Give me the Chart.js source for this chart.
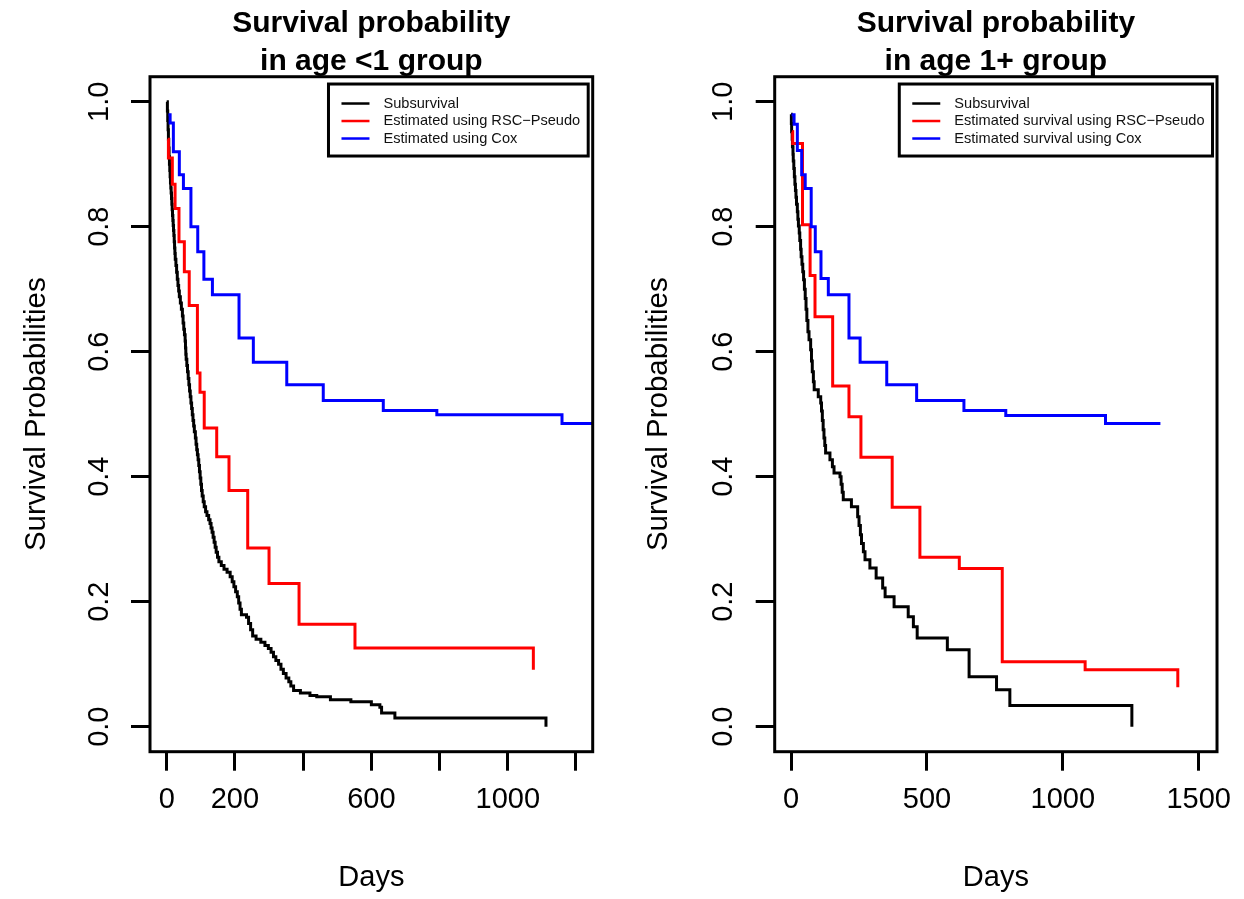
<!DOCTYPE html>
<html><head><meta charset="utf-8">
<script src="https://cdn.jsdelivr.net/npm/chart.js@4"></script>
<style>
html,body{margin:0;padding:0;background:#fff;}
#wrap{position:relative;width:1244px;height:899px;background:#fff;}
canvas{position:absolute;top:0;}
</style></head><body>
<div id="wrap">
<canvas id="c1" width="622" height="899" style="left:0;width:622px;height:899px"></canvas>
<canvas id="c2" width="622" height="899" style="left:622px;width:622px;height:899px"></canvas>
</div>
<script>
// ---------------- DATA ----------------
const seriesLabelsLeft = ['Subsurvival', 'Estimated using RSC\u2212Pseudo', 'Estimated using Cox'];
const seriesLabelsRight = ['Subsurvival', 'Estimated survival using RSC\u2212Pseudo', 'Estimated survival using Cox'];
const titleLeft = ['Survival probability', 'in age <1 group'];
const titleRight = ['Survival probability', 'in age 1+ group'];
const xTitle = 'Days';
const yTitle = 'Survival Probabilities';

const yTickValues = [0, 0.2, 0.4, 0.6, 0.8, 1.0];
const yTickLabels = ['0.0', '0.2', '0.4', '0.6', '0.8', '1.0'];
const leftXTickValues = [0, 200, 400, 600, 800, 1000, 1200];
const leftXTickLabels = ['0', '200', '', '600', '', '1000', ''];
const rightXTickValues = [0, 500, 1000, 1500];
const rightXTickLabels = ['0', '500', '1000', '1500'];

// Left panel (age < 1)
const leftSubDays = [0,2,3,4,5,6,7,8,9,10,11,12,13,14,15,16,17,18,19,20,21,22,23,24,25,27,29,31,33,35,37,40,43,46,48,50,52,54,55,56,57,59,61,63,65,67,69,71,73,75,77,79,81,84,86,88,90,92,94,96,98,100,102,104,107,110,114,118,123,127,130,133,136,139,142,145,149,153,160,168,177,186,192,197,202,207,211,215,219,234,240,246,252,262,276,288,298,306,313,320,328,335,342,350,358,364,372,392,420,440,480,540,600,625,630,669,1112];
const leftSubSurv = [1.000,0.985,0.970,0.955,0.940,0.926,0.912,0.900,0.890,0.880,0.870,0.862,0.854,0.845,0.836,0.827,0.818,0.810,0.802,0.794,0.786,0.776,0.766,0.757,0.748,0.738,0.727,0.716,0.706,0.697,0.688,0.678,0.668,0.657,0.646,0.636,0.627,0.617,0.606,0.596,0.588,0.578,0.568,0.557,0.547,0.537,0.528,0.518,0.509,0.499,0.490,0.481,0.472,0.462,0.452,0.443,0.435,0.427,0.418,0.408,0.398,0.388,0.378,0.369,0.360,0.352,0.344,0.338,0.331,0.325,0.318,0.311,0.303,0.295,0.287,0.279,0.271,0.264,0.258,0.252,0.247,0.240,0.232,0.224,0.216,0.208,0.198,0.188,0.179,0.175,0.165,0.155,0.145,0.140,0.135,0.130,0.125,0.119,0.112,0.106,0.100,0.092,0.085,0.078,0.072,0.065,0.058,0.054,0.050,0.048,0.043,0.040,0.035,0.031,0.022,0.014,0.000];
const leftRscDays = [3,5,16.5,24.5,36,51.7,66,90,97.6,110,146.6,182.6,237.5,300,388,552,1075];
const leftRscSurv = [0.940,0.910,0.868,0.829,0.776,0.728,0.674,0.566,0.535,0.478,0.432,0.378,0.286,0.229,0.164,0.126,0.091];
const leftCoxDays = [5,10,19.5,37,49,71,91,109,134,212,254,352,459,635,792,1159,1300];
const leftCoxSurv = [0.979,0.966,0.920,0.883,0.861,0.800,0.760,0.716,0.691,0.622,0.583,0.547,0.522,0.506,0.499,0.485,0.485];

// Right panel (age 1+)
const rightSubDays = [0,1,2,4,5,7,8,10,12,14,16,18,20,23,25,27,30,32,35,37,40,43,46,49,52,55,58,62,66,72,75,78,82,85,100,109,112,115,118,121,124,127,143,152,158,180,184,188,192,222,245,250,255,259,266,272,290,313,337,346,379,431,450,464,575,655,756,805,1254];
const rightSubSurv = [0.980,0.965,0.952,0.940,0.928,0.916,0.905,0.893,0.880,0.868,0.858,0.847,0.836,0.824,0.812,0.801,0.790,0.778,0.764,0.752,0.740,0.728,0.715,0.700,0.685,0.668,0.650,0.632,0.619,0.603,0.585,0.568,0.552,0.539,0.528,0.518,0.505,0.490,0.475,0.462,0.450,0.438,0.427,0.416,0.406,0.400,0.388,0.375,0.363,0.352,0.336,0.322,0.307,0.293,0.280,0.267,0.254,0.238,0.222,0.208,0.192,0.176,0.160,0.142,0.123,0.080,0.059,0.034,0.000];
const rightRscDays = [3,6,42,70,88,153,213,257,372,474,619,777,1082,1423];
const rightRscSurv = [0.952,0.933,0.803,0.722,0.656,0.545,0.496,0.431,0.351,0.271,0.253,0.104,0.091,0.063];
const rightCoxDays = [2,11,23,39,52,74,89,110,137,213,254,352,462,636,790,1157,1359];
const rightCoxSurv = [0.979,0.964,0.922,0.883,0.861,0.800,0.760,0.717,0.691,0.622,0.583,0.547,0.522,0.506,0.498,0.485,0.485];

const seriesColors = ['#000000', '#FF0000', '#0000FF'];

// ---------------- CHART ----------------
Chart.defaults.font.family = "'Liberation Sans', Arial, Helvetica, sans-serif";
Chart.defaults.color = '#000';

function pts(days, surv) { return days.map((d, i) => ({x: d, y: surv[i]})); }

const boxPlugin = {
  id: 'rbox',
  afterDatasetsDraw(chart) {
    const {ctx, chartArea: a} = chart;
    ctx.save();
    ctx.strokeStyle = '#000';
    ctx.lineWidth = 3;
    ctx.strokeRect(a.left, a.top, a.right - a.left, a.bottom - a.top);
    ctx.restore();
  }
};

const legendPlugin = {
  id: 'rlegend',
  afterDraw(chart) {
    const {ctx, chartArea: a} = chart;
    const ds = chart.data.datasets;
    ctx.save();
    ctx.font = "14.6px 'Liberation Sans', Arial, sans-serif";
    let tw = 0;
    ds.forEach(d => { tw = Math.max(tw, ctx.measureText(d.label).width); });
    const right = a.right - 4.5;
    const left = right - (55 + tw + 8);
    const top = a.top + 7.3;
    const h = 72;
    ctx.fillStyle = '#fff';
    ctx.fillRect(left, top, right - left, h);
    ctx.strokeStyle = '#000';
    ctx.lineWidth = 3;
    ctx.strokeRect(left, top, right - left, h);
    ds.forEach((d, i) => {
      const y = top + 19.5 + i * 17.5;
      ctx.strokeStyle = d.borderColor;
      ctx.lineWidth = 2.5;
      ctx.beginPath();
      ctx.moveTo(left + 13, y);
      ctx.lineTo(left + 41, y);
      ctx.stroke();
      ctx.fillStyle = '#111';
      ctx.textBaseline = 'middle';
      ctx.textAlign = 'left';
      ctx.fillText(d.label, left + 55, y);
    });
    ctx.restore();
  }
};

function makeChart(id, cfg) {
  const datasets = cfg.series.map((s, i) => ({
    label: cfg.labels[i],
    data: pts(s[0], s[1]),
    borderColor: seriesColors[i],
    backgroundColor: seriesColors[i],
    borderWidth: 3,
    pointRadius: 0,
    stepped: true,
    fill: false,
    order: 3 - i
  }));
  return new Chart(document.getElementById(id), {
    type: 'line',
    data: {datasets},
    plugins: [boxPlugin, legendPlugin],
    options: {
      responsive: false,
      animation: false,
      devicePixelRatio: 1,
      layout: {padding: {left: 0, right: cfg.rightPad, top: 0, bottom: 0}},
      plugins: {
        legend: {display: false},
        tooltip: {enabled: false},
        title: {
          display: true,
          text: cfg.title,
          fullSize: false,
          color: '#000',
          font: {size: 30, weight: 'bold', lineHeight: 1.267},
          padding: {top: 4.25, bottom: -3.55}
        }
      },
      scales: {
        x: {
          type: 'linear',
          min: cfg.xMin, max: cfg.xMax,
          afterBuildTicks: s => { s.ticks = cfg.xTicks.map(v => ({value: v})); },
          afterFit: s => { s.height = 899 - 751.7; },
          grid: {display: true, drawOnChartArea: false, drawTicks: true, tickLength: 19, tickWidth: 3, tickColor: '#000'},
          border: {display: false},
          ticks: {
            autoSkip: false, maxRotation: 0, minRotation: 0, padding: 11.9,
            font: {size: 29}, color: '#000',
            callback: (v, i) => cfg.xTickLabels[i]
          },
          title: {display: true, text: xTitle, font: {size: 29}, color: '#000', padding: {top: 0, bottom: 3.6}}
        },
        y: {
          type: 'linear',
          min: -0.04, max: 1.04,
          afterBuildTicks: s => { s.ticks = yTickValues.map(v => ({value: v})); },
          afterFit: s => { s.width = cfg.yWidth; },
          grid: {display: true, drawOnChartArea: false, drawTicks: true, tickLength: 19, tickWidth: 3, tickColor: '#000'},
          border: {display: false},
          ticks: {
            autoSkip: false, minRotation: 90, maxRotation: 90, padding: 11.3,
            crossAlign: 'center',
            font: {size: 29}, color: '#000',
            callback: (v, i) => yTickLabels[i]
          },
          title: {display: true, text: yTitle, font: {size: 29.5}, color: '#000', padding: {top: 19.3, bottom: 0}}
        }
      }
    }
  });
}

makeChart('c1', {
  title: titleLeft,
  labels: seriesLabelsLeft,
  series: [[leftSubDays, leftSubSurv], [leftRscDays, leftRscSurv], [leftCoxDays, leftCoxSurv]],
  xMin: -49.0, xMax: 1249.0,
  xTicks: leftXTickValues, xTickLabels: leftXTickLabels,
  yWidth: 150, rightPad: 622 - 592.7
});
makeChart('c2', {
  title: titleRight,
  labels: seriesLabelsRight,
  series: [[rightSubDays, rightSubSurv], [rightRscDays, rightRscSurv], [rightCoxDays, rightCoxSurv]],
  xMin: -60.3, xMax: 1567.3,
  xTicks: rightXTickValues, xTickLabels: rightXTickLabels,
  yWidth: 152.7, rightPad: 622 - 595.4
});
</script>
</body></html>
